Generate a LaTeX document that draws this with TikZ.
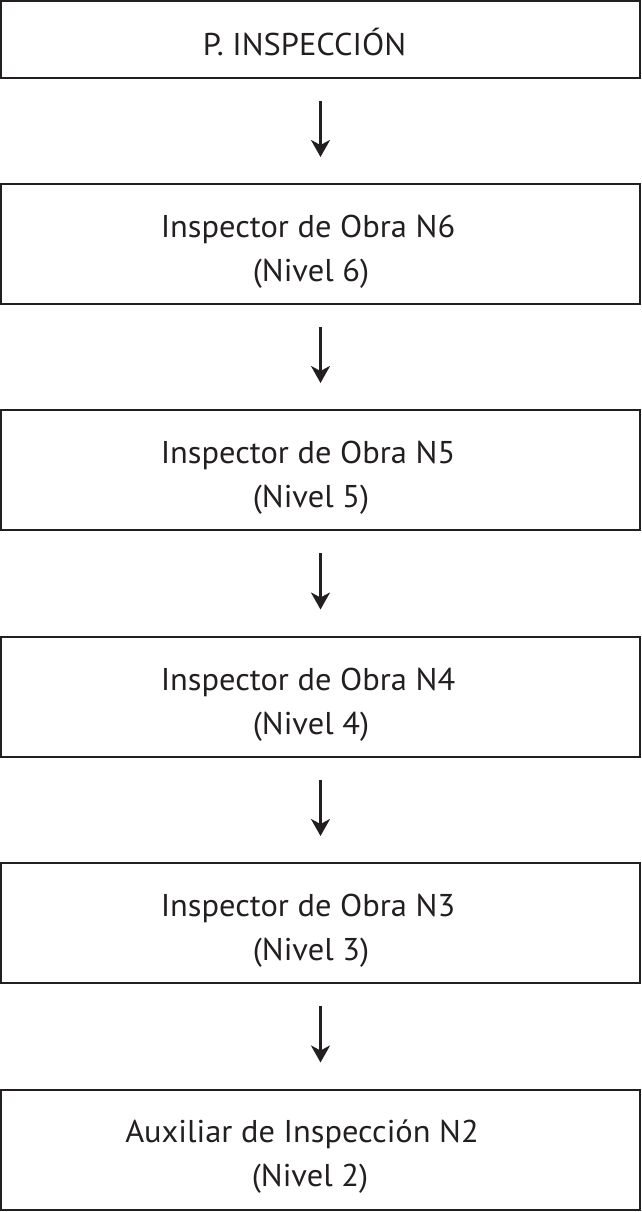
\documentclass[tikz,border=0pt]{standalone}
\usepackage{fontspec}
\setmainfont{PT Sans}[FakeStretch=1.03]
\usetikzlibrary{arrows.meta}
\definecolor{ink}{HTML}{231F20}
\begin{document}
\begin{tikzpicture}[x=1pt,y=-1pt,
  box/.style={draw=ink,line width=2pt,rectangle,minimum width=639pt,inner sep=0pt},
  tall/.style={box,minimum height=120pt},
  short/.style={box,minimum height=77pt},
  lbl/.style={inner sep=0pt,align=center,text=ink,font=\fontsize{31.5}{44}\selectfont},
  arr/.style={draw=ink,line width=2.6pt,-{Stealth[length=17pt,width=19pt,inset=5pt]}}]
\useasboundingbox (0,0) rectangle (642,1212);
\node[short] (b1) at (320.5,39.5) {};
\node[tall] (b2) at (320.5,244) {};
\node[tall] (b3) at (320.5,470) {};
\node[tall] (b4) at (320.5,696.5) {};
\node[tall] (b5) at (320.5,923) {};
\node[tall] (b6) at (320.5,1149.5) {};
\node[lbl] (t1) at ([xshift=-16pt,yshift=-2pt]b1.center) {P. INSPECCIÓN};
\node[lbl] (t2) at ([xshift=-9.5pt,yshift=-8pt]b2.center) {Inspector de Obra N6\hspace*{6pt}\\(Nivel 6)};
\node[lbl] (t3) at ([xshift=-9.5pt,yshift=-8pt]b3.center) {Inspector de Obra N5\hspace*{6pt}\\(Nivel 5)};
\node[lbl] (t4) at ([xshift=-9.5pt,yshift=-8pt]b4.center) {Inspector de Obra N4\hspace*{6pt}\\(Nivel 4)};
\node[lbl] (t5) at ([xshift=-9.5pt,yshift=-8pt]b5.center) {Inspector de Obra N3\hspace*{6pt}\\(Nivel 3)};
\node[lbl] (t6) at ([xshift=-10.5pt,yshift=-7pt]b6.center) {Auxiliar de Inspección N2\hspace*{16pt}\\(Nivel 2)};
\foreach \a/\b in {b1/b2,b2/b3,b3/b4,b4/b5,b5/b6}
  \draw[arr] ([yshift=-22pt]\a.south) -- ([yshift=26pt]\b.north);
\end{tikzpicture}
\end{document}
